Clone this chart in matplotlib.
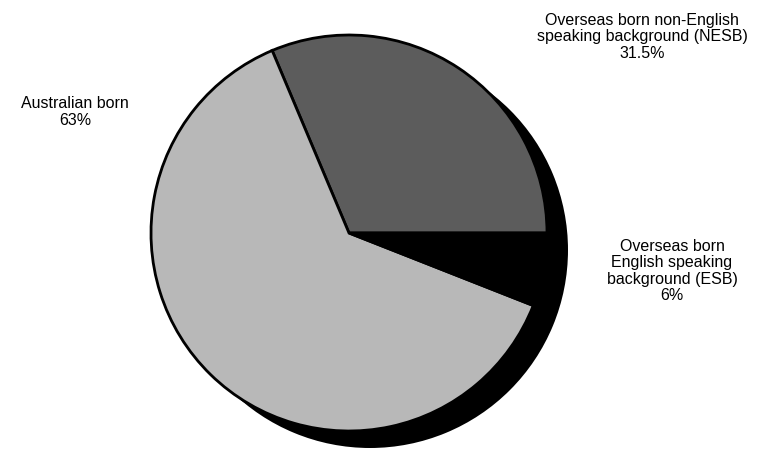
import matplotlib
matplotlib.use("Agg")
import matplotlib.pyplot as plt
from matplotlib import font_manager

categories = ["Overseas born non-English\nspeaking background (NESB)",
              "Australian born",
              "Overseas born\nEnglish speaking\nbackground (ESB)"]
values = [31.5, 63, 6]
pct_labels = ["31.5%", "63%", "6%"]
colors = ["#5c5c5c", "#b8b8b8", "#000000"]

names = {f.name for f in font_manager.fontManager.ttflist}
fam = [n for n in ["Liberation Sans Narrow", "Liberation Sans", "DejaVu Sans"] if n in names]
plt.rcParams['font.family'] = fam

W, H = 775, 452
fig = plt.figure(figsize=(W / 100, H / 100), dpi=100)
ax = fig.add_axes([0, 0, 1, 1])
cx, cy, r = 349, H - 234, 198

# shadow
ax.pie([1], colors=["black"], center=(cx + 21, cy - 17), radius=r,
       wedgeprops=dict(linewidth=0), frame=True)
ax.pie(values, colors=colors, center=(cx, cy), radius=r, startangle=0,
       counterclock=True, frame=True,
       wedgeprops=dict(edgecolor="black", linewidth=2))

ax.set_xlim(0, W)
ax.set_ylim(0, H)
ax.set_aspect("equal")
ax.axis("off")

label_pos = [(642, 37), (75, 112), (672, 271)]
for cat, pct, (x, y) in zip(categories, pct_labels, label_pos):
    ax.text(x, H - y, cat + "\n" + pct, ha="center", va="center",
            fontsize=11.5, linespacing=1.1, color="black")

fig.savefig("out.png", dpi=100)
